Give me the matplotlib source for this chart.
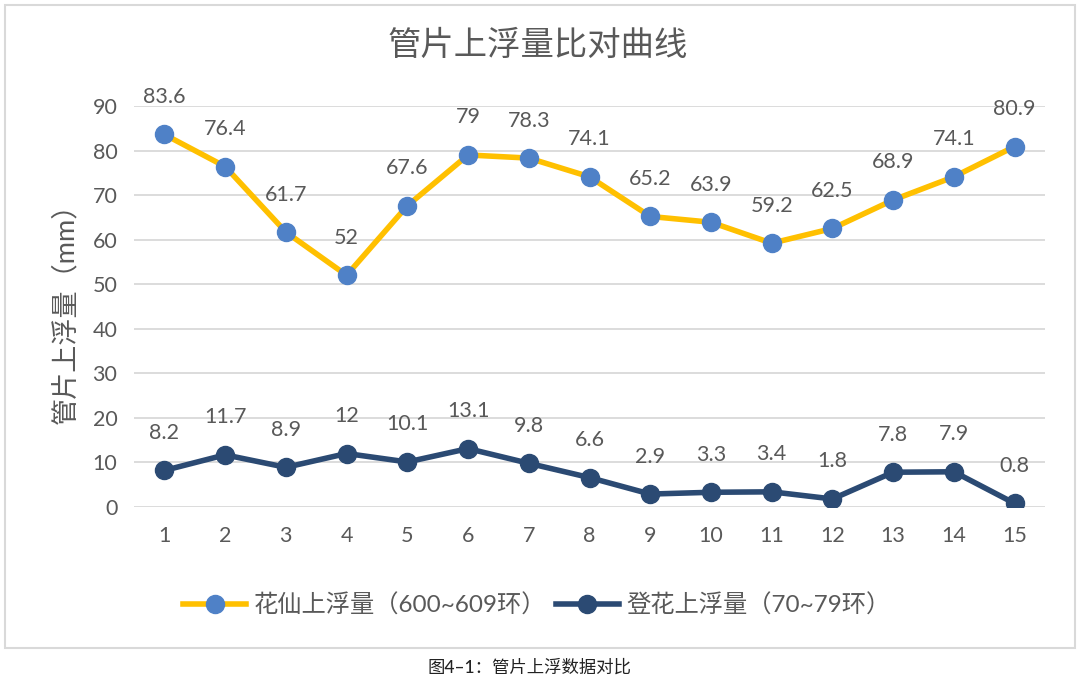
import matplotlib.pyplot as plt
from matplotlib.patches import Rectangle

plt.rcParams['font.family'] = ['Lato', 'Noto Sans CJK SC', 'DejaVu Sans']

rings = list(range(1, 16))
huaxian = [83.6, 76.4, 61.7, 52, 67.6, 79, 78.3, 74.1, 65.2, 63.9, 59.2, 62.5, 68.9, 74.1, 80.9]
denghua = [8.2, 11.7, 8.9, 12, 10.1, 13.1, 9.8, 6.6, 2.9, 3.3, 3.4, 1.8, 7.8, 7.9, 0.8]
label_huaxian = '花仙上浮量（600~609环）'
label_denghua = '登花上浮量（70~79环）'
yticks = [0, 10, 20, 30, 40, 50, 60, 70, 80, 90]

text_color = '#595959'
yellow = '#FFC000'
blue_marker = '#4F81C7'
navy = '#2B4A73'

fig = plt.figure(figsize=(10.8, 6.84), dpi=100)
ax = fig.add_axes([0.1241, 0.2588, 0.8435, 0.5863])

# outer chart border
fig.patches.append(Rectangle((5 / 1080, 1 - 648 / 684), 1070 / 1080, 643 / 684,
                             transform=fig.transFigure, fill=False,
                             edgecolor='#D9D9D9', linewidth=1.5))

ax.plot(rings, huaxian, color=yellow, linewidth=4, marker='o', markersize=13,
        markerfacecolor=blue_marker, markeredgecolor=blue_marker, label=label_huaxian,
        zorder=3)
ax.plot(rings, denghua, color=navy, linewidth=4, marker='o', markersize=13,
        markerfacecolor=navy, markeredgecolor=navy, label=label_denghua, zorder=3)

for series in (huaxian, denghua):
    for x, y in zip(rings, series):
        ax.annotate(f'{y:g}', xy=(x, y), xytext=(0, 27), textcoords='offset points',
                    ha='center', va='center', fontsize=15.5, color=text_color)

ax.set_xlim(0.5, 15.5)
ax.set_ylim(0, 90)
ax.set_yticks(yticks)
ax.set_xticks(rings)
ax.grid(axis='y', color='#D9D9D9', linewidth=1.3)
ax.set_axisbelow(True)
for s in ax.spines.values():
    s.set_visible(False)
ax.tick_params(length=0, labelsize=15.5, colors=text_color)
ax.tick_params(axis='y', pad=12)
ax.tick_params(axis='x', pad=14)

ax.set_ylabel('管片上浮量（mm）', fontsize=19.5, color=text_color, labelpad=10)

# chart title is centred on the whole chart, not the plot area
fig.text(0.498, 1 - 45 / 684, '管片上浮量比对曲线', ha='center', va='center',
         fontsize=24, color=text_color)

ax.legend(loc='center', bbox_to_anchor=(0.497, 1 - 605 / 684), bbox_transform=fig.transFigure,
          ncol=2, frameon=False, fontsize=17.5, labelcolor=text_color,
          handlelength=2.6, columnspacing=0.4, handletextpad=0.3)

fig.text(0.49, 1 - 667 / 684, '图4–1：管片上浮数据对比', ha='center', va='center',
         fontsize=12.5, color='#222222', fontweight='medium')

fig.savefig('out.png', dpi=100)
